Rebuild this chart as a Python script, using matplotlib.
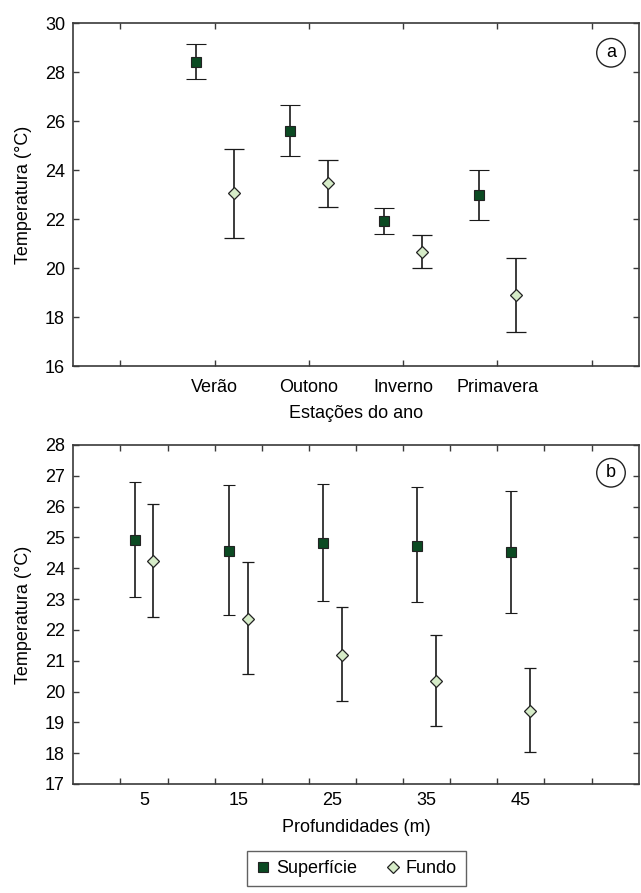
# - Librerías
import numpy as np
import matplotlib
matplotlib.use("Agg")
import matplotlib.pyplot as plt

# - Datos (a): estaciones del año
estacoes = ["Verão", "Outono", "Inverno", "Primavera"]
sup_a = [28.42, 25.61, 21.91, 22.99]
sup_a_low = [27.72, 24.56, 21.38, 21.95]
sup_a_high = [29.16, 26.67, 22.44, 24.02]
fun_a = [23.08, 23.46, 20.66, 18.89]
fun_a_low = [21.25, 22.51, 20.00, 17.40]
fun_a_high = [24.88, 24.43, 21.36, 20.42]

# - Datos (b): profundidades
profundidades = [5, 15, 25, 35, 45]
sup_b = [24.93, 24.57, 24.82, 24.72, 24.52]
sup_b_low = [23.08, 22.49, 22.93, 22.89, 22.54]
sup_b_high = [26.80, 26.69, 26.75, 26.65, 26.51]
fun_b = [24.23, 22.36, 21.19, 20.33, 19.38]
fun_b_low = [22.43, 20.58, 19.68, 18.89, 18.04]
fun_b_high = [26.09, 24.20, 22.74, 21.84, 20.75]

# - Estilo
plt.rcParams['font.family'] = ['Liberation Sans', 'DejaVu Sans']
fs = 13
plt.rcParams['font.size'] = fs
cor_sup = "#0b4a22"
cor_fun = "#d6ecc8"
cor_eixo = "#3a3a3a"

fig = plt.figure(figsize=(6.41, 8.93), dpi=100)
ax1 = fig.add_axes([0.1144, 0.5901, 0.882, 0.3838])
ax2 = fig.add_axes([0.1144, 0.1221, 0.882, 0.3796])


def erros(val, low, high):
    val = np.array(val)
    return [val - np.array(low), np.array(high) - val]


def estilo(ax):
    for s in ax.spines.values():
        s.set_color(cor_eixo)
        s.set_linewidth(1.2)
    ax.tick_params(direction='in', top=True, right=True, length=4,
                   width=1, color=cor_eixo, labelsize=fs, pad=6)


# - Gráfico (a)
xa = np.arange(1, len(estacoes) + 1)
ax1.errorbar(xa - 0.2, sup_a, yerr=erros(sup_a, sup_a_low, sup_a_high),
             fmt='s', ms=6.5, mfc=cor_sup, mec='#222222', mew=0.8,
             ecolor='#1a1a1a', elinewidth=1.2, capsize=7.5, capthick=1.2)
ax1.errorbar(xa + 0.2, fun_a, yerr=erros(fun_a, fun_a_low, fun_a_high),
             fmt='D', ms=6, mfc=cor_fun, mec='#222222', mew=0.9,
             ecolor='#1a1a1a', elinewidth=1.2, capsize=7.5, capthick=1.2)
ax1.set_xlim(-0.5, 5.5)
ax1.set_ylim(16, 30)
ax1.set_yticks(np.arange(16, 31, 2))
ax1.set_xticks(np.arange(0, 6))
ax1.set_xticklabels([""] + estacoes + [""])
ax1.set_xlabel("Estações do ano", fontsize=fs, labelpad=7)
ax1.set_ylabel("Temperatura (°C)", fontsize=fs, labelpad=9)
estilo(ax1)
ax1.tick_params(axis='x', pad=9)
ax1.text(0.9510, 0.914, "a", transform=ax1.transAxes, ha='center', va='center',
         fontsize=fs, bbox=dict(boxstyle='circle,pad=0.32', fc='white',
                                ec='#222222', lw=1.0))

# - Gráfico (b)
xb = np.arange(1, len(profundidades) + 1)
ax2.errorbar(xb - 0.1, sup_b, yerr=erros(sup_b, sup_b_low, sup_b_high),
             fmt='s', ms=6.5, mfc=cor_sup, mec='#222222', mew=0.8,
             ecolor='#1a1a1a', elinewidth=1.2, capsize=4, capthick=1.2,
             label="Superfície")
ax2.errorbar(xb + 0.1, fun_b, yerr=erros(fun_b, fun_b_low, fun_b_high),
             fmt='D', ms=6, mfc=cor_fun, mec='#222222', mew=0.9,
             ecolor='#1a1a1a', elinewidth=1.2, capsize=4, capthick=1.2,
             label="Fundo")
ax2.set_xlim(0.25, 6.25)
ax2.set_ylim(17, 28)
ax2.set_yticks(np.arange(17, 29, 1))
ax2.set_xticks(np.arange(0.75, 6.0, 0.5))
ax2.set_xticklabels([])
ax2.set_xticks(xb, minor=True)
ax2.set_xticklabels([str(p) for p in profundidades], minor=True)
ax2.set_xlabel("Profundidades (m)", fontsize=fs, labelpad=7)
ax2.set_ylabel("Temperatura (°C)", fontsize=fs, labelpad=9)
estilo(ax2)
ax2.tick_params(axis='x', which='minor', length=0, pad=6, labelsize=fs)
ax2.text(0.9510, 0.918, "b", transform=ax2.transAxes, ha='center', va='center',
         fontsize=fs, bbox=dict(boxstyle='circle,pad=0.32', fc='white',
                                ec='#222222', lw=1.0))

# - Leyenda
h, l = ax2.get_legend_handles_labels()
h = [x[0] for x in h]
leg = fig.legend(h, l, loc='center', bbox_to_anchor=(0.556, 0.0274), ncol=2,
                 frameon=True, fancybox=False, handlelength=0.8,
                 handletextpad=0.3, columnspacing=1.6, fontsize=fs,
                 borderpad=0.5)
leg.get_frame().set_edgecolor(cor_eixo)
leg.get_frame().set_linewidth(1.0)

fig.savefig("out.png", dpi=100)
